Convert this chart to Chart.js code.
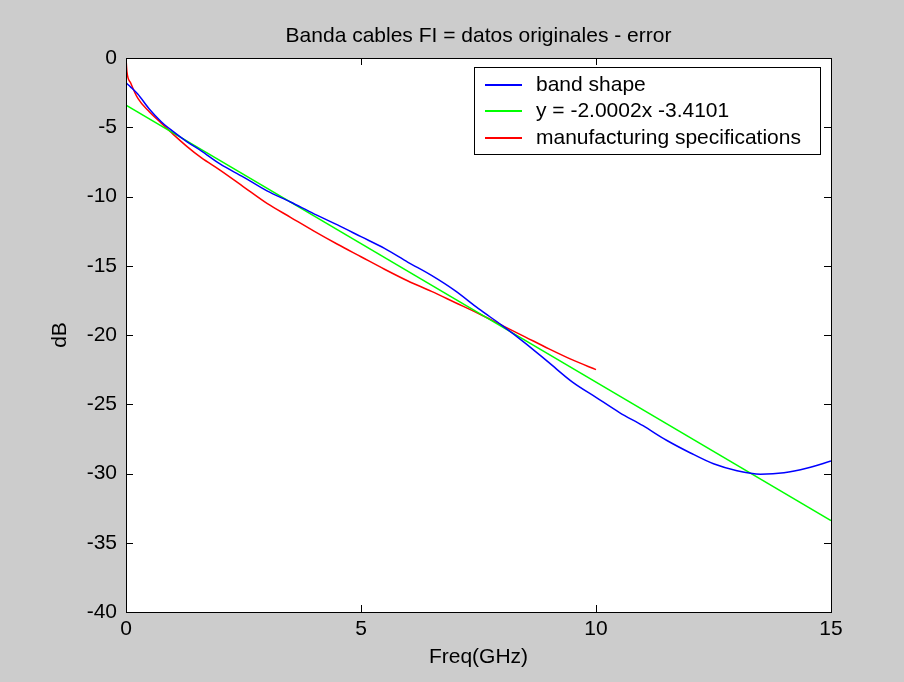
<!DOCTYPE html>
<html>
<head>
<meta charset="utf-8">
<script src="https://cdn.jsdelivr.net/npm/chart.js@4/dist/chart.umd.min.js"></script>
<style>
  body { margin: 0; background: #cccccc; }
  canvas { display: block; }
</style>
</head>
<body>
<canvas id="bandChart" width="904" height="682"></canvas>
<script>
// values
const bandX = [0, 0.1, 0.25, 0.5, 0.75, 1.0, 1.3, 1.6, 2.0, 2.5, 3.0, 3.5, 4.0, 4.5, 5.0, 5.5, 6.0, 6.5, 7.0, 7.5, 8.0, 8.5, 9.0, 9.5, 10.0, 10.5, 11.0, 11.5, 12.0, 12.5, 13.0, 13.5, 14.0, 14.5, 15.0];
const bandY = [-1.8, -2.1, -2.6, -3.7, -4.6, -5.3, -6.05, -6.7, -7.65, -8.6, -9.6, -10.4, -11.25, -12.05, -12.9, -13.75, -14.75, -15.7, -16.8, -18.1, -19.3, -20.6, -22.0, -23.4, -24.5, -25.6, -26.55, -27.6, -28.5, -29.3, -29.8, -30.05, -29.95, -29.6, -29.1];

const fitX = [0, 15];
const fitY = [-3.4, -33.4];

const specX = [0, 0.02, 0.1, 0.25, 0.5, 0.75, 1.0, 1.3, 1.6, 2.0, 2.5, 3.0, 3.5, 4.0, 4.5, 5.0, 5.5, 6.0, 6.5, 7.0, 7.5, 8.0, 8.5, 9.0, 9.5, 10.0];
const specY = [0, -1.0, -1.8, -2.9, -3.9, -4.7, -5.5, -6.4, -7.2, -8.1, -9.3, -10.5, -11.5, -12.5, -13.45, -14.35, -15.25, -16.1, -16.85, -17.65, -18.45, -19.3, -20.15, -21.0, -21.8, -22.5];

const xTicks = [0, 5, 10, 15];
const yTicks = [0, -5, -10, -15, -20, -25, -30, -35, -40];

const seriesLabels = ['band shape', 'y = -2.0002x -3.4101', 'manufacturing specifications'];
const chartTitle = 'Banda cables FI = datos originales - error';

const pairs = (xs, ys) => xs.map((x, i) => ({ x: x, y: ys[i] }));

const FONT = '"Liberation Sans", Arial, sans-serif';

// grey figure + white axes background
const backdrop = {
  id: 'backdrop',
  beforeDraw(chart) {
    const { ctx, chartArea: a } = chart;
    ctx.save();
    ctx.fillStyle = '#cccccc';
    ctx.fillRect(0, 0, chart.width, chart.height);
    ctx.fillStyle = '#ffffff';
    ctx.fillRect(a.left, a.top, a.right - a.left, a.bottom - a.top);
    ctx.restore();
  }
};

// title centred over the axes, like matlab does
const axesTitle = {
  id: 'axesTitle',
  afterDraw(chart) {
    const { ctx, chartArea: a } = chart;
    ctx.save();
    ctx.font = '21px ' + FONT;
    ctx.fillStyle = '#000000';
    ctx.textAlign = 'center';
    ctx.textBaseline = 'middle';
    ctx.fillText(chartTitle, (a.left + a.right) / 2, 36);
    ctx.restore();
  }
};

// matlab style box with inward ticks on all four sides
const boxTicks = {
  id: 'boxTicks',
  afterDatasetsDraw(chart) {
    const { ctx, chartArea: a, scales } = chart;
    const len = 7;
    ctx.save();
    ctx.strokeStyle = '#000000';
    ctx.lineWidth = 1;
    ctx.beginPath();
    xTicks.forEach(v => {
      const px = Math.round(scales.x.getPixelForValue(v)) + 0.5;
      ctx.moveTo(px, a.bottom);
      ctx.lineTo(px, a.bottom - len);
      ctx.moveTo(px, a.top);
      ctx.lineTo(px, a.top + len);
    });
    yTicks.forEach(v => {
      const py = Math.round(scales.y.getPixelForValue(v)) + 0.5;
      ctx.moveTo(a.left, py);
      ctx.lineTo(a.left + len, py);
      ctx.moveTo(a.right, py);
      ctx.lineTo(a.right - len, py);
    });
    ctx.stroke();
    ctx.strokeRect(Math.round(a.left) + 0.5, Math.round(a.top) + 0.5,
      Math.round(a.right - a.left), Math.round(a.bottom - a.top));
    ctx.restore();
  }
};

// legend box inside the axes, top right
const insideLegend = {
  id: 'insideLegend',
  afterDraw(chart) {
    const { ctx, chartArea: a } = chart;
    const sets = chart.data.datasets;
    ctx.save();
    ctx.font = '21px ' + FONT;
    let maxW = 0;
    sets.forEach(d => { maxW = Math.max(maxW, ctx.measureText(d.label).width); });
    const w = Math.round(62 + maxW + 19);
    const h = 87;
    const right = Math.round(a.right) - 11;
    const left = right - w;
    const top = Math.round(a.top) + 9;
    ctx.fillStyle = '#ffffff';
    ctx.fillRect(left, top, w, h);
    ctx.strokeStyle = '#000000';
    ctx.lineWidth = 1;
    ctx.strokeRect(left + 0.5, top + 0.5, w, h);
    ctx.textBaseline = 'middle';
    ctx.textAlign = 'left';
    sets.forEach((d, i) => {
      const y = Math.round(top + 18 + i * 26.3);
      ctx.strokeStyle = d.borderColor;
      ctx.lineWidth = 2;
      ctx.beginPath();
      ctx.moveTo(left + 11, y);
      ctx.lineTo(left + 48, y);
      ctx.stroke();
      ctx.fillStyle = '#000000';
      ctx.fillText(d.label, left + 62, y);
    });
    ctx.restore();
  }
};

const lineStyle = {
  showLine: true,
  borderWidth: 1.5,
  pointRadius: 0,
  pointHoverRadius: 0,
  fill: false,
  cubicInterpolationMode: 'monotone'
};

new Chart(document.getElementById('bandChart'), {
  type: 'scatter',
  data: {
    datasets: [
      Object.assign({ label: seriesLabels[0], data: pairs(bandX, bandY), borderColor: '#0000ff' }, lineStyle),
      Object.assign({ label: seriesLabels[1], data: pairs(fitX, fitY), borderColor: '#00ff00' }, lineStyle),
      Object.assign({ label: seriesLabels[2], data: pairs(specX, specY), borderColor: '#ff0000' }, lineStyle)
    ]
  },
  options: {
    responsive: false,
    animation: false,
    devicePixelRatio: 1,
    layout: { padding: { top: 58, right: 73, bottom: 0, left: 0 } },
    plugins: {
      legend: { display: false },
      tooltip: { enabled: false },
      title: { display: false }
    },
    scales: {
      x: {
        type: 'linear',
        min: 0,
        max: 15,
        afterBuildTicks(scale) { scale.ticks = xTicks.map(v => ({ value: v })); },
        afterFit(scale) { scale.height = 70; },
        grid: { display: false, drawTicks: false },
        border: { display: false },
        ticks: { color: '#000000', padding: 5, font: { family: FONT, size: 21 } },
        title: {
          display: true,
          text: 'Freq(GHz)',
          color: '#000000',
          font: { family: FONT, size: 21 },
          padding: { top: 0, bottom: 12 }
        }
      },
      y: {
        type: 'linear',
        min: -40,
        max: 0,
        afterBuildTicks(scale) { scale.ticks = yTicks.map(v => ({ value: v })); },
        afterFit(scale) { scale.width = 126; },
        grid: { display: false, drawTicks: false },
        border: { display: false },
        ticks: { color: '#000000', padding: 9, font: { family: FONT, size: 21 } },
        title: {
          display: true,
          text: 'dB',
          color: '#000000',
          font: { family: FONT, size: 21 },
          padding: { top: 48, bottom: 0 }
        }
      }
    }
  },
  plugins: [backdrop, boxTicks, insideLegend, axesTitle]
});
</script>
</body>
</html>
